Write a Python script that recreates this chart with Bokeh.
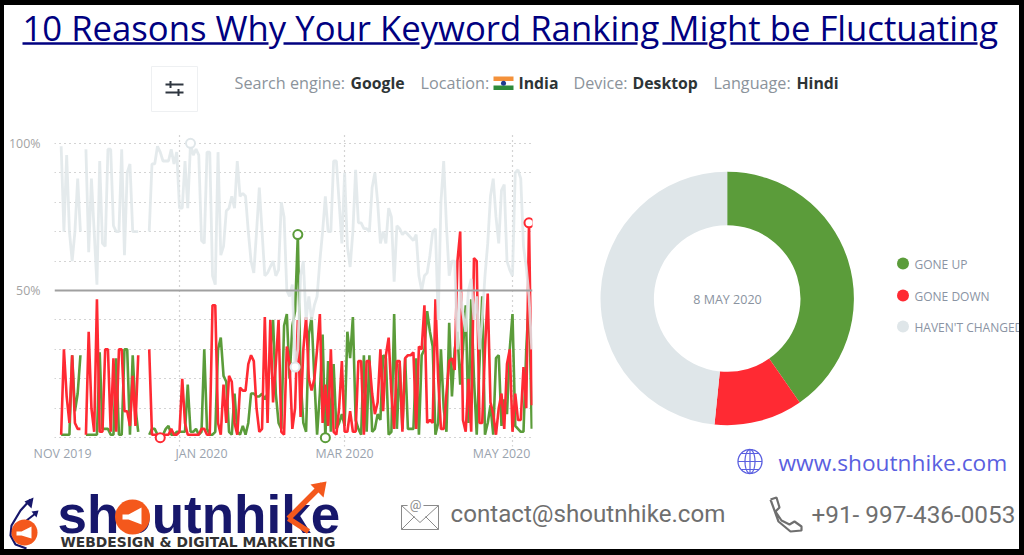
from bokeh.plotting import figure
from bokeh.layouts import column, row
from bokeh.models import Range1d, FixedTicker, Span
from bokeh.core.properties import value
from bokeh.embed import file_html
from bokeh.resources import INLINE
import numpy as np
import pandas as pd
from math import pi

N = None
GONE_DOWN = [
 1,30,14,5,28,5,3,3,N,1,
 36,10,2,47,2,2,30,30,2,27,
 2,30,30,9,9,4,21,4,28,N,
 N,N,30,1,1,1,0,1,1,1,
 3,1,1,2,20,5,1,1,1,1,
 1,3,3,1,1,45,45,5,1,18,
 5,21,19,5,1,17,16,16,25,28,
 26,10,2,3,41,5,40,12,25,40,
 2,1,31,25,3,10,40,7,30,41,
 20,16,20,30,42,5,18,4,30,2,
 1,10,26,2,2,9,2,2,26,26,
 1,26,26,15,8,12,30,9,28,34,
 15,3,26,26,2,27,28,28,29,3,
 31,30,45,5,6,5,47,20,3,3,
 15,26,27,23,60,70,6,2,20,2,
 61,60,5,5,30,49,12,8,1,10,
 15,3,25,30,2,15,6,6,24,10,
 73,11]
GONE_UP = [
 1,1,1,1,28,9,15,28,N,1,
 1,1,1,1,29,3,3,3,1,1,
 27,1,1,30,30,1,28,10,2,N,
 N,N,1,3,3,1,1,1,3,4,
 1,1,2,2,2,2,18,2,2,3,
 1,2,30,3,1,1,2,30,34,21,
 19,2,1,15,2,1,4,1,5,15,
 15,14,14,15,13,15,30,40,15,5,
 3,38,42,20,38,43,69,20,5,2,
 35,41,20,1,15,35,0,26,2,25,
 3,5,8,4,36,27,41,6,3,1,
 28,2,28,2,3,8,6,28,27,1,
 2,42,3,25,3,27,3,3,3,27,
 1,28,30,43,36,31,1,5,30,10,
 2,39,14,30,36,18,30,45,5,47,
 20,1,25,48,1,5,11,1,27,28,
 4,13,8,30,42,4,3,2,2,30,
 48,3]
UNCHANGED = [
 99,70,96,70,60,70,88,70,N,98,
 63,88,70,52,94,66,65,98,98,72,
 70,70,98,62,90,93,70,70,70,N,
 N,N,70,93,93,99,97,94,94,94,
 98,93,97,78,78,94,78,100,96,98,
 96,67,66,97,97,55,52,97,62,65,
 77,78,82,78,94,82,83,82,70,60,
 56,70,85,70,55,56,58,60,55,57,
 80,75,50,48,52,24,30,55,60,40,
 48,40,45,48,60,70,82,70,70,94,
 94,80,66,90,65,58,70,91,73,73,
 71,71,70,85,90,80,66,70,66,78,
 75,53,72,71,69,70,69,68,67,69,
 55,50,55,56,62,70,71,40,80,94,
 72,55,60,60,30,50,42,36,50,54,
 40,48,30,40,55,66,82,88,75,66,
 84,86,60,57,55,90,91,88,65,58,
 48,30]
DONUT_LABELS = ["GONE UP", "GONE DOWN", "HAVEN'T CHANGED"]
DONUT_VALUES = [40.3, 11.3, 48.4]
DONUT_DATE = "8 MAY 2020"
START_DATE = "2019-11-19"
X_TICK_DATES = ["2019-11-19 12:00", "2020-01-09", "2020-03-01", "2020-04-27"]
X_TICK_LABELS = ["NOV 2019", "JAN 2020", "MAR 2020", "MAY 2020"]
X_GRID_DATES = ["2020-01-01", "2020-03-01", "2020-05-01"]
Y_TICKS = [50, 100]
Y_LABELS = ["50%", "100%"]
Y_GRID = [0, 10, 20, 30, 40, 60, 70, 80, 90, 100]
TITLE = "10 Reasons Why Your Keyword Ranking Might be Fluctuating"

GREEN, RED, GREY = "#5b9c3a", "#ff2a33", "#dfe6e9"
H = 555
def Y(py):
    return H - py
def ms(d):
    return pd.Timestamp(d).value / 1e6

WHITE = {"background-color": "#ffffff"}

def canvas(left, top, right, bottom, margin):
    p = figure(width=right-left, height=bottom-top, output_backend="svg", toolbar_location=None,
               x_range=Range1d(left, right), y_range=Range1d(Y(bottom), Y(top)),
               min_border=0, min_border_left=0, min_border_right=0, min_border_top=0, min_border_bottom=0,
               margin=margin, outline_line_color=None, background_fill_color="white", border_fill_color="white",
               frame_align=False, styles=WHITE)
    p.xaxis.visible = False; p.yaxis.visible = False
    p.xgrid.visible = False; p.ygrid.visible = False
    return p

def txt(p, x, py, s, size, color, font="Open Sans", style="normal", align="left"):
    p.text([x], [Y(py)], text=[s], text_font=value(font), text_font_size=f"{size}px",
           text_font_style=style, text_color=color, text_baseline="middle", text_align=align)

# ---------- header ----------
hd = canvas(4, 5, 1019, 125, (5, 5, 0, 4))
txt(hd, 22, 26.5, TITLE, 34.7, "#000080")
for a, b in [(22, 268), (283, 419), (434, 637), (662, 707), (730, 977)]:
    hd.line([a, b], [Y(43), Y(43)], line_color="#000080", line_width=2.5)
hd.quad(left=[151], right=[197], top=[Y(66)], bottom=[Y(111)], fill_color="white", line_color="#eef0f2", line_width=1)
for py, xa, xb, tx in [(84, 165, 183, 170), (92, 165, 183, 178)]:
    hd.line([xa, xb], [Y(py), Y(py)], line_color="#2f3640", line_width=2)
    hd.line([tx, tx], [Y(py-3.5), Y(py+3.5)], line_color="#2f3640", line_width=2)
GREYT, DARK = "#8b939b", "#2d3436"
for x, s, col, st, sz in [(234, "Search engine:", GREYT, "normal", 16.2), (350, "Google", DARK, "bold", 15.8),
                          (420, "Location:", GREYT, "normal", 16.2), (518, "India", DARK, "bold", 15.8),
                          (573, "Device:", GREYT, "normal", 16.2), (632, "Desktop", DARK, "bold", 15.8),
                          (713, "Language:", GREYT, "normal", 16.2), (796, "Hindi", DARK, "bold", 15.8)]:
    txt(hd, x, 82.5, s, sz, col, style=st)
for col, a, b in [("#f4913a", 76, 80.5), ("#ffffff", 80.5, 85), ("#2e8b3a", 85, 89.5)]:
    hd.quad(left=[493], right=[513], top=[Y(a)], bottom=[Y(b)], fill_color=col, line_color=None)
hd.scatter([503], [Y(82.7)], size=5, marker="circle", fill_color="#203a8f", line_color=None)

# ---------- line chart ----------
dates = pd.date_range(START_DATE, periods=len(GONE_UP))
arr = {k: np.array(v, dtype=float) for k, v in dict(up=GONE_UP, down=GONE_DOWN, same=UNCHANGED).items()}
jan1 = pd.Timestamp("2020-01-01")
ch = figure(width=566, height=353, output_backend="svg", toolbar_location=None, x_axis_type="datetime",
            x_range=Range1d(jan1 - pd.Timedelta(days=45.42), jan1 + pd.Timedelta(days=128.27)),
            y_range=Range1d(-3, 103), min_border_left=50, min_border_right=38, min_border_top=9, min_border_bottom=32,
            margin=(0, 0, 0, 4), outline_line_color=None, border_fill_color="white", frame_align=False, styles=WHITE)
ch.xaxis.ticker = FixedTicker(ticks=[ms(d) for d in X_TICK_DATES])
ch.xaxis.major_label_overrides = {ms(d): l for d, l in zip(X_TICK_DATES, X_TICK_LABELS)}
ch.yaxis.ticker = FixedTicker(ticks=Y_TICKS)
ch.yaxis.major_label_overrides = dict(zip(Y_TICKS, Y_LABELS))
for ax, col in ((ch.xaxis, "#9aa3ae"), (ch.yaxis, "#a3a3a3")):
    ax.axis_line_color = None
    ax.major_tick_line_color = None
    ax.minor_tick_line_color = None
    ax.major_tick_out = 0
    ax.major_tick_in = 0
    ax.minor_tick_out = 0
    ax.major_label_text_font = "Open Sans"
    ax.major_label_text_font_size = "12.4px"
    ax.major_label_text_color = col
ch.xaxis.major_label_standoff = -2
ch.yaxis.major_label_standoff = 14
ch.xgrid.ticker = FixedTicker(ticks=[ms(d) for d in X_GRID_DATES])
ch.ygrid.ticker = FixedTicker(ticks=Y_GRID)
for g in (ch.xgrid, ch.ygrid):
    g.grid_line_color = "#a8a8a8"
    g.grid_line_dash = "1 4"
    g.grid_line_width = 1.2
ch.add_layout(Span(location=50, dimension="width", line_color="#a0a0a0", line_width=2))
ch.line(dates, arr["up"], line_color=GREEN, line_width=2.6)
ch.line(dates, arr["down"], line_color=RED, line_width=2.6)
ch.line(dates, arr["same"], line_color=GREY, line_width=2.8, line_alpha=0.85)
for key, col, fn in [("up", GREEN, np.nanargmax), ("up", GREEN, np.nanargmin),
                     ("down", RED, np.nanargmax), ("down", RED, np.nanargmin),
                     ("same", GREY, np.nanargmax), ("same", GREY, np.nanargmin)]:
    i = int(fn(arr[key]))
    ch.scatter([dates[i]], [arr[key][i]], marker="circle", size=9, fill_color="white", line_color=col, line_width=2)

# ---------- donut ----------
dn = canvas(570, 125, 1019, 478, (0, 0, 0, 0))
fr = np.cumsum([0] + DONUT_VALUES) / sum(DONUT_VALUES)
start = pi/2 - 2*pi*fr[:-1]
end = pi/2 - 2*pi*fr[1:]
dn.annular_wedge(x=[726.7]*3, y=[Y(298)]*3, inner_radius=73.3, outer_radius=126.7,
                 start_angle=start, end_angle=end, direction="clock",
                 fill_color=[GREEN, RED, "#dfe6e9"], line_color=None)
txt(dn, 727, 299, DONUT_DATE, 12.5, "#8a93a0", align="center")
for py, lab, col in zip([264, 296, 327], DONUT_LABELS, [GREEN, RED, "#dfe6e9"]):
    dn.scatter([902.5], [Y(py-1)], marker="circle", size=12, fill_color=col, line_color=None)
    txt(dn, 914, py, lab, 12, "#8a93a3")
BLUE = "#5a5fe0"
txt(dn, 778, 462, "www.shoutnhike.com", 22.7, BLUE)
gt = np.linspace(0, 2*pi, 60)
dn.line(749.5 + 12*np.cos(gt), Y(461) + 12*np.sin(gt), line_color=BLUE, line_width=1.3)
dn.line(749.5 + 5*np.cos(gt), Y(461) + 12*np.sin(gt), line_color=BLUE, line_width=1.2)
for py, hw in [(453, 9), (461, 12), (469, 9)]:
    dn.line([749.5-hw, 749.5+hw], [Y(py), Y(py)], line_color=BLUE, line_width=1.2)
dn.line([749.5, 749.5], [Y(449), Y(473)], line_color=BLUE, line_width=1.2)

# ---------- footer ----------
ft = canvas(4, 478, 1019, 549, (0, 5, 6, 4))
NAVY, ORANGE = "#17176b", "#f4581c"
txt(ft, 57, 514, "shoutnhike", 53, NAVY, font="Liberation Sans", style="bold")
ft.scatter([132], [Y(516.5)], marker="circle", size=35, fill_color=ORANGE, line_color=None)
ft.patch([122, 128, 141, 141, 128, 122], [Y(514), Y(514), Y(507), Y(524), Y(519), Y(519)], fill_color="white", line_color=None)
ft.multi_line([[288, 322], [288, 308]], [[Y(518), Y(484)], [Y(518), Y(531)]], line_color=ORANGE, line_width=5.5)
ft.patch([326, 310, 323], [Y(481), Y(484), Y(497)], fill_color=ORANGE, line_color=None)
txt(ft, 60, 541.5, "WEBDESIGN & DIGITAL MARKETING", 13.85, "#333333", font="DejaVu Sans", style="bold")
ft.line([30, 20, 11, 10, 15, 26], [Y(499), Y(510), Y(525), Y(535), Y(544), Y(548)], line_color=NAVY, line_width=2.2)
ft.patch([33, 24, 31], [Y(497), Y(501), Y(508)], fill_color=NAVY, line_color=None)
ft.line([26, 35], [Y(520), Y(513)], line_color=NAVY, line_width=2)
ft.patch([38, 31, 36], [Y(510), Y(511), Y(517)], fill_color=NAVY, line_color=None)
ft.scatter([24], [Y(532)], marker="circle", size=26, fill_color=ORANGE, line_color=None)
ft.patch([16, 21, 31, 31, 21, 16], [Y(531), Y(531), Y(526), Y(538), Y(535), Y(535)], fill_color="white", line_color=None)
GR = "#6f6f6f"
ft.patch([401, 438, 438, 401, 401], [Y(505), Y(505), Y(529), Y(529), Y(505)], fill_color="white", line_color="#8a8a8a", line_width=1)
ft.multi_line([[401, 419.5, 438], [401, 414], [438, 425]], [[Y(505), Y(522), Y(505)], [Y(529), Y(516)], [Y(529), Y(516)]], line_color="#8a8a8a", line_width=1)
ft.scatter([415], [Y(505)], marker="circle", size=15, fill_color="white", line_color="white")
txt(ft, 415, 504, "@", 13, "#8a8a8a", align="center", font="Roboto")
txt(ft, 450, 513.5, "contact@shoutnhike.com", 24.15, GR, font="Roboto")
txt(ft, 811, 513.5, "+91- 997-436-0053", 24.3, GR, font="Roboto")
ft.line([770, 776, 779, 775, 781, 789, 794, 801, 801, 790, 778, 770],
        [Y(499), Y(497), Y(507), Y(511), Y(520), Y(524), Y(521), Y(526), Y(530), Y(531), Y(521), Y(499)],
        line_color=GR, line_width=2.2)

root = column(hd, row(ch, dn), ft, width=1024, height=555, margin=(0, 0, 0, 0),
              styles={"background-color": "#000000"})
open("out.html", "w").write(file_html(root, INLINE))
